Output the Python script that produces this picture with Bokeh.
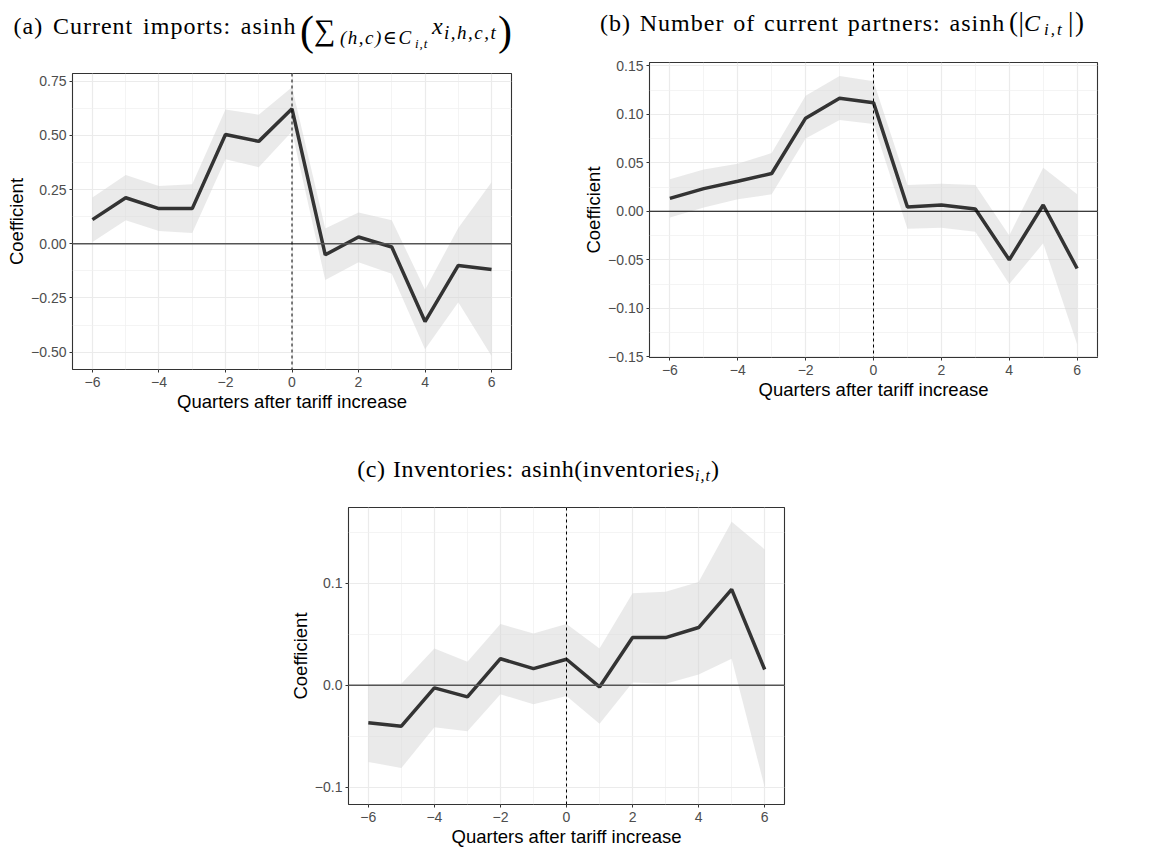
from bokeh.plotting import figure
from bokeh.models import Span, FixedTicker, Spacer, Range1d, Div
from bokeh.layouts import column, row
from bokeh.embed import file_html
from bokeh.resources import INLINE

# ---------------- data ----------------
quarters = [-6, -5, -4, -3, -2, -1, 0, 1, 2, 3, 4, 5, 6]
x_ticks = [-6, -4, -2, 0, 2, 4, 6]
x_minor = [-5, -3, -1, 1, 3, 5]
x_tick_labels = ["−6", "−4", "−2", "0", "2", "4", "6"]
x_title = "Quarters after tariff increase"
y_title = "Coefficient"

# (a) current imports
a_coef = [0.111, 0.212, 0.162, 0.162, 0.504, 0.472, 0.622, -0.051, 0.031, -0.015, -0.359, -0.100, -0.119]
a_lo = [0.008, 0.108, 0.059, 0.050, 0.390, 0.353, 0.518, -0.167, -0.085, -0.139, -0.487, -0.270, -0.518]
a_hi = [0.213, 0.317, 0.266, 0.274, 0.619, 0.595, 0.722, 0.070, 0.144, 0.108, -0.212, 0.073, 0.283]
a_yticks = [-0.5, -0.25, 0.0, 0.25, 0.5, 0.75]
a_ytick_labels = ["−0.50", "−0.25", "0.00", "0.25", "0.50", "0.75"]
a_yminor = [-0.375, -0.125, 0.125, 0.375, 0.625]

# (b) number of current partners
b_coef = [0.0134, 0.0234, 0.031, 0.039, 0.096, 0.1165, 0.112, 0.0045, 0.0065, 0.0024, -0.050, 0.0065, -0.059]
b_lo = [-0.0065, 0.0038, 0.0124, 0.0175, 0.075, 0.094, 0.090, -0.018, -0.017, -0.021, -0.075, -0.033, -0.137]
b_hi = [0.033, 0.043, 0.049, 0.060, 0.119, 0.1395, 0.134, 0.027, 0.0285, 0.027, -0.025, 0.045, 0.0175]
b_yticks = [-0.15, -0.10, -0.05, 0.0, 0.05, 0.10, 0.15]
b_ytick_labels = ["−0.15", "−0.10", "−0.05", "0.00", "0.05", "0.10", "0.15"]
b_yminor = [-0.125, -0.075, -0.025, 0.025, 0.075, 0.125]

# (c) inventories
c_coef = [-0.0366, -0.040, -0.0026, -0.0114, 0.026, 0.0163, 0.0255, -0.0016, 0.0467, 0.0467, 0.0565, 0.0938, 0.0154]
c_lo = [-0.075, -0.081, -0.041, -0.045, -0.0088, -0.0186, -0.0105, -0.0376, 0.0026, 0.0016, 0.0105, 0.026, -0.0997]
c_hi = [0.001, 0.0016, 0.036, 0.023, 0.060, 0.0507, 0.060, 0.036, 0.090, 0.0915, 0.101, 0.160, 0.133]
c_yticks = [-0.1, 0.0, 0.1]
c_ytick_labels = ["−0.1", "0.0", "0.1"]
c_yminor = [-0.05, 0.05, 0.15]

SERIF = "'Liberation Serif', 'DejaVu Serif', serif"
SANS = "Liberation Sans"


def make_panel(width, height, bl, br, bt, bb, xr, yr, yticks, ylabels, yminor,
               coef, lo, hi, zero_color, zero_width):
    p = figure(width=width, height=height, x_range=Range1d(*xr), y_range=Range1d(*yr),
               output_backend="svg", toolbar_location=None,
               min_border_left=bl, min_border_right=br, min_border_top=bt, min_border_bottom=bb)
    p.background_fill_color = "white"
    p.border_fill_color = "white"
    p.outline_line_color = "#333333"
    p.outline_line_width = 1.1

    p.xaxis.ticker = FixedTicker(ticks=x_ticks, minor_ticks=x_minor)
    p.xaxis.major_label_overrides = dict(zip(x_ticks, x_tick_labels))
    p.yaxis.ticker = FixedTicker(ticks=yticks, minor_ticks=yminor)
    p.yaxis.major_label_overrides = dict(zip(yticks, ylabels))

    for ax in (p.xaxis, p.yaxis):
        ax.axis_line_color = None
        ax.major_tick_line_color = "#333333"
        ax.major_tick_out = 3
        ax.major_tick_in = 0
        ax.minor_tick_line_color = None
        ax.major_label_text_font = SANS
        ax.major_label_text_font_size = "14px"
        ax.major_label_text_color = "#4D4D4D"
        ax.axis_label_text_font = SANS
        ax.axis_label_text_font_size = "18.5px"
        ax.axis_label_text_font_style = "normal"
        ax.axis_label_text_color = "black"
    p.xaxis.axis_label = x_title
    p.yaxis.axis_label = y_title
    p.xaxis.major_label_standoff = 3
    p.yaxis.major_label_standoff = 2
    p.xaxis.axis_label_standoff = 1
    p.yaxis.axis_label_standoff = 1

    for g in (p.xgrid, p.ygrid):
        g.grid_line_color = "#EBEBEB"
        g.grid_line_width = 1.2
        g.minor_grid_line_color = "#EFEFEF"
        g.minor_grid_line_width = 0.7

    p.varea(x=quarters, y1=lo, y2=hi, fill_color="#D6D6D6", fill_alpha=0.5)
    p.add_layout(Span(location=0, dimension="width", line_color=zero_color, line_width=zero_width))
    p.add_layout(Span(location=0, dimension="height", line_color="black", line_width=1, line_dash="3 3"))
    p.line(quarters, coef, line_color="#333333", line_width=3.5)
    return p


def title_div(x0, y0, width, height, pieces):
    """pieces: (page_x, page_baseline, text, size_px, italic, letter_spacing, word_spacing)"""
    spans = []
    for px, py, text, size, italic, ls, ws in pieces:
        top = py - y0 - 0.8375 * size
        style = ("position:absolute; left:%.1fpx; top:%.1fpx; font-family:%s; font-size:%.1fpx; "
                 "line-height:1; white-space:pre; color:black; font-style:%s; "
                 "letter-spacing:%.2fpx; word-spacing:%.2fpx;"
                 % (px - x0, top, SERIF, size, "italic" if italic else "normal", ls, ws))
        spans.append('<span style="%s">%s</span>' % (style, text))
    html = ('<div style="position:relative; width:%dpx; height:%dpx; overflow:visible;">%s</div>'
            % (width, height, "".join(spans)))
    return Div(text=html, width=width, height=height, margin=0)


# ---------------- top row ----------------
WA, WB = 575, 566
HA_DIV, HB_DIV = 53, 42
PH = 362

pa = make_panel(WA, PH, 72, 64, 20, 46, (-6.6, 6.6), (-0.58, 0.785),
                a_yticks, a_ytick_labels, a_yminor, a_coef, a_lo, a_hi, "#555555", 1.3)
da = title_div(0, 0, WA, HA_DIV, [
    (13.5, 34, "(a) Current imports: asinh", 24, False, 1.0, 2.8),
    (300, 45, "(", 42, False, 0, 0),
    (314, 40, "∑", 30, False, 0, 0),
    (340, 43.5, "(h,c)∈C", 19, True, 1.5, 0),
    (415, 47.5, "i,t", 13, True, 1.0, 0),
    (432, 34, "x", 24, True, 0, 0),
    (444, 38.5, "i,h,c,t", 19, True, 1.5, 0),
    (498, 45, ")", 42, False, 0, 0),
])

pb = make_panel(WB, PH, 74, 44, 20, 47, (-6.6, 6.6), (-0.1507, 0.1534),
                b_yticks, b_ytick_labels, b_yminor, b_coef, b_lo, b_hi, "black", 1.1)
db = title_div(WA, 0, WB, HB_DIV, [
    (600, 31, "(b) Number of current partners: asinh", 24, False, 1.0, 1.8),
    (1009, 32, "(", 27, False, 0, 0),
    (1018.5, 32, "|", 27, False, 0, 0),
    (1024, 31, "C", 24, True, 0, 0),
    (1044, 35.5, "i,t", 17, True, 2.0, 0),
    (1068, 32, "|", 27, False, 0, 0),
    (1075, 32, ")", 27, False, 0, 0),
])

# ---------------- bottom row ----------------
Y2 = HA_DIV + PH
SP = 270
WC = 544
HC_DIV = 487 - Y2
pc = make_panel(WC, 363, 78, 30, 20, 46, (-6.6, 6.6), (-0.1167, 0.174),
                c_yticks, c_ytick_labels, c_yminor, c_coef, c_lo, c_hi, "#555555", 1.3)
dc = title_div(SP, Y2, WC, HC_DIV, [
    (357.3, 476.7, "(c) Inventories: asinh(inventories", 24, False, 0.5, 1.0),
    (695, 481, "i,t", 16, True, 1.0, 0),
    (711, 476.7, ")", 24, False, 0, 0),
])

layout = column(
    row(column(da, pa, margin=0), column(db, pb, margin=0), margin=0),
    row(Spacer(width=SP, height=HC_DIV + 363, margin=0), column(dc, pc, margin=0), margin=0),
    margin=0,
)

open("out.html", "w").write(file_html(layout, INLINE))
